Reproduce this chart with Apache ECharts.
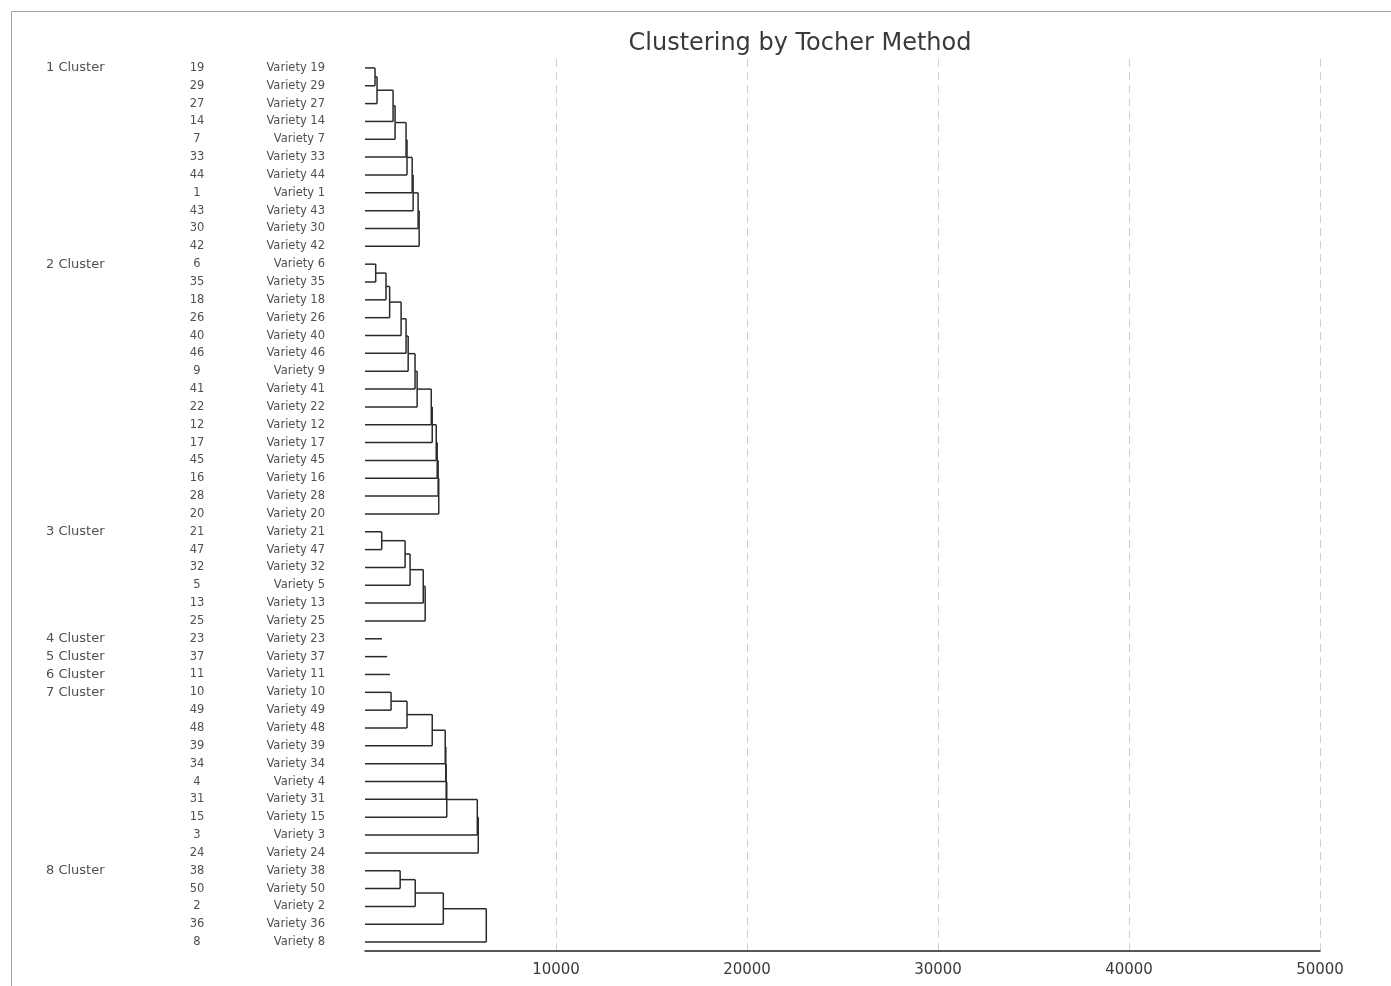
<!DOCTYPE html>
<html>
<head>
<meta charset="utf-8">
<script src="https://cdn.jsdelivr.net/npm/echarts@6/dist/echarts.min.js"></script>
<style>html,body{margin:0;padding:0;background:#fff;}#chart{width:1391px;height:986px;}</style>
</head>
<body>
<div id="chart"></div>
<script>
// ---- data ----
const clusterNames = ['1 Cluster','2 Cluster','3 Cluster','4 Cluster','5 Cluster','6 Cluster','7 Cluster','8 Cluster'];
const cluster1 = [19,29,27,14,7,33,44,1,43,30,42];
const cluster2 = [6,35,18,26,40,46,9,41,22,12,17,45,16,28,20];
const cluster3 = [21,47,32,5,13,25];
const cluster4 = [23];
const cluster5 = [37];
const cluster6 = [11];
const cluster7 = [10,49,48,39,34,4,31,15,3,24];
const cluster8 = [38,50,2,36,8];
// merge distances (for a single member: length of its stub)
const heights1 = [525,630,1470,1575,2150,2200,2470,2520,2780,2835];
const heights2 = [560,1100,1290,1890,2150,2260,2620,2730,3470,3520,3730,3780,3830,3860];
const heights3 = [875,2100,2360,3050,3150];
const heights4 = [890];
const heights5 = [1160];
const heights6 = [1310];
const heights7 = [1365,2200,3520,4200,4230,4250,4280,5880,5930];
const heights8 = [1840,2630,4100,6350];
const xTickValues = [0,10000,20000,30000,40000,50000];

const clusterMembers = [cluster1,cluster2,cluster3,cluster4,cluster5,cluster6,cluster7,cluster8];
const clusterHeights = [heights1,heights2,heights3,heights4,heights5,heights6,heights7,heights8];

// ---- build rows & segments ----
const rowVariety = [], rowCluster = [];
const segs = [];
let row = 0;
clusterMembers.forEach((m, ci) => {
  m.forEach((v, k) => { rowVariety.push(v); rowCluster.push(k === 0 ? clusterNames[ci] : ''); });
  const h = clusterHeights[ci];
  if (m.length === 1) { segs.push([0, row, h[0], row]); row++; return; }
  let nodeX = 0, nodeY = row;
  for (let k = 1; k < m.length; k++) {
    const r = row + k, hk = h[k - 1];
    segs.push([nodeX, nodeY, hk, nodeY]);
    segs.push([0, r, hk, r]);
    segs.push([hk, nodeY, hk, r]);
    nodeX = hk; nodeY = (nodeY + r) / 2;
  }
  row += m.length;
});
const nRows = rowVariety.length;

const chart = echarts.init(document.getElementById('chart'));
const FONT = '"DejaVu Sans", "Liberation Sans", Arial, sans-serif';
const TXT = '#505050';
chart.setOption({
  backgroundColor: '#fff',
  animation: false,
  title: {
    text: 'Clustering by Tocher Method',
    left: 795, top: 27, textAlign: 'center',
    textStyle: { fontFamily: FONT, fontSize: 24, fontWeight: 'normal', color: '#3a3a3a' }
  },
  graphic: [{
    type: 'rect', left: 9, top: 9, shape: { width: 1400, height: 1000 },
    style: { fill: 'none', stroke: '#a0a0a0', lineWidth: 1 }, silent: true
  }],
  grid: { left: 365, right: 71, top: 59, bottom: 35 },
  xAxis: {
    type: 'value', min: 0, max: 50000, interval: 10000,
    axisLine: { show: true, onZero: false, lineStyle: { color: '#222', width: 1.5 } },
    axisTick: { show: false },
    axisLabel: {
      margin: 12, fontFamily: FONT, fontSize: 15, color: '#3a3a3a',
      formatter: v => (xTickValues.indexOf(v) > 0 ? String(v) : '')
    },
    splitLine: { show: true, showMinLine: false, lineStyle: { color: '#cfcfcf', type: [8, 5], width: 1 } }
  },
  yAxis: [{
    type: 'category', inverse: true,
    data: rowVariety.map(String),
    axisLine: { show: false }, axisTick: { show: false }, splitLine: { show: false },
    axisLabel: {
      interval: 0, margin: 40, fontFamily: FONT, fontSize: 11, color: TXT,
      formatter: (val, idx) => '{c|' + rowCluster[idx] + '}{n|' + rowVariety[idx] + '}{v|Variety ' + rowVariety[idx] + '}',
      rich: {
        c: { width: 136, align: 'left', fontFamily: FONT, fontSize: 13, color: TXT },
        n: { width: 30, align: 'center', fontFamily: FONT, fontSize: 11.5, color: TXT },
        v: { width: 113, align: 'right', fontFamily: FONT, fontSize: 11.5, color: TXT }
      }
    }
  }, {
    type: 'value', inverse: true, min: -0.5, max: nRows - 0.5, show: false
  }],
  series: [{
    type: 'custom',
    xAxisIndex: 0, yAxisIndex: 1,
    data: segs,
    encode: { x: [0, 2], y: [1, 3] },
    renderItem: (params, api) => {
      const p1 = api.coord([api.value(0), api.value(1)]);
      const p2 = api.coord([api.value(2), api.value(3)]);
      return {
        type: 'line',
        shape: { x1: p1[0], y1: p1[1], x2: p2[0], y2: p2[1] },
        style: { stroke: '#2a2a2a', lineWidth: 1.5 }
      };
    }
  }]
});
</script>
</body>
</html>
